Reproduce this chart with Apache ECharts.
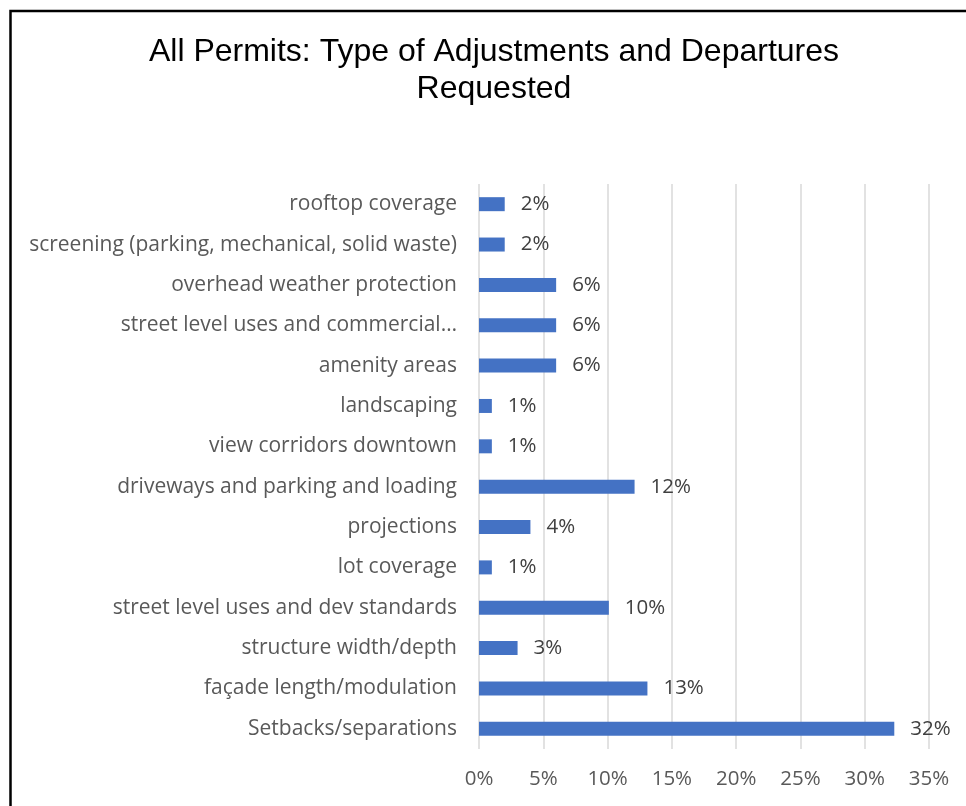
<!DOCTYPE html>
<html>
<head>
<meta charset="utf-8">
<title>All Permits: Type of Adjustments and Departures Requested</title>
<script src="https://cdn.jsdelivr.net/npm/echarts@6/dist/echarts.min.js"></script>
<style>
  html, body { margin: 0; padding: 0; background: #fff; }
  #chart { width: 966px; height: 806px; }
</style>
</head>
<body>
<div id="chart"></div>
<script>
// categories, bottom to top (as the y axis draws them)
const categories = [
  "Setbacks/separations",
  "façade length/modulation",
  "structure width/depth",
  "street level uses and dev standards",
  "lot coverage",
  "projections",
  "driveways and parking and loading",
  "view corridors downtown",
  "landscaping",
  "amenity areas",
  "street level uses and commercial…",
  "overhead weather protection",
  "screening (parking, mechanical, solid waste)",
  "rooftop coverage",
];

// percent of permits
const shares = [32.3, 13.1, 3.0, 10.1, 1.0, 4.0, 12.1, 1.0, 1.0, 6.0, 6.0, 6.0, 2.0, 2.0];

const xTicks = [0, 5, 10, 15, 20, 25, 30, 35];

const chart = echarts.init(document.getElementById("chart"));

const option = {
  animation: false,
  title: {
    text: "All Permits: Type of Adjustments and Departures\nRequested",
    left: 489,
    textAlign: "center",
    top: 29,
    textStyle: {
      fontFamily: "Liberation Sans",
      fontSize: 32,
      fontWeight: "normal",
      color: "#000",
      lineHeight: 37,
    },
  },
  graphic: [
    {
      type: "rect",
      shape: { x: 10.5, y: 11, width: 1000, height: 1000 },
      style: { fill: "none", stroke: "#000", lineWidth: 2.5 },
      silent: true,
    },
  ],
  grid: {
    left: 479,
    right: 966 - 929,
    top: 184,
    bottom: 806 - 749,
  },
  xAxis: {
    type: "value",
    min: xTicks[0],
    max: xTicks[xTicks.length - 1],
    interval: 5,
    axisLine: { show: false },
    axisTick: { show: false },
    splitLine: { lineStyle: { color: "#d9d9d9", width: 1.5 } },
    axisLabel: {
      formatter: (v) => v + "%",
      fontFamily: "Open Sans",
      fontSize: 20.5,
      color: "#595959",
      margin: 20,
    },
  },
  yAxis: {
    type: "category",
    data: categories,
    axisLine: { show: false },
    axisTick: { show: false },
    axisLabel: {
      fontFamily: "Open Sans",
      fontSize: 21,
      color: "#595959",
      margin: 22,
    },
  },
  series: [
    {
      type: "bar",
      data: shares,
      barWidth: 14,
      itemStyle: { color: "#4472c4" },
      label: {
        show: true,
        position: "right",
        distance: 16,
        formatter: (p) => Math.round(p.value) + "%",
        fontFamily: "Open Sans",
        fontSize: 20.5,
        color: "#404040",
      },
    },
  ],
};

chart.setOption(option);
</script>
</body>
</html>
